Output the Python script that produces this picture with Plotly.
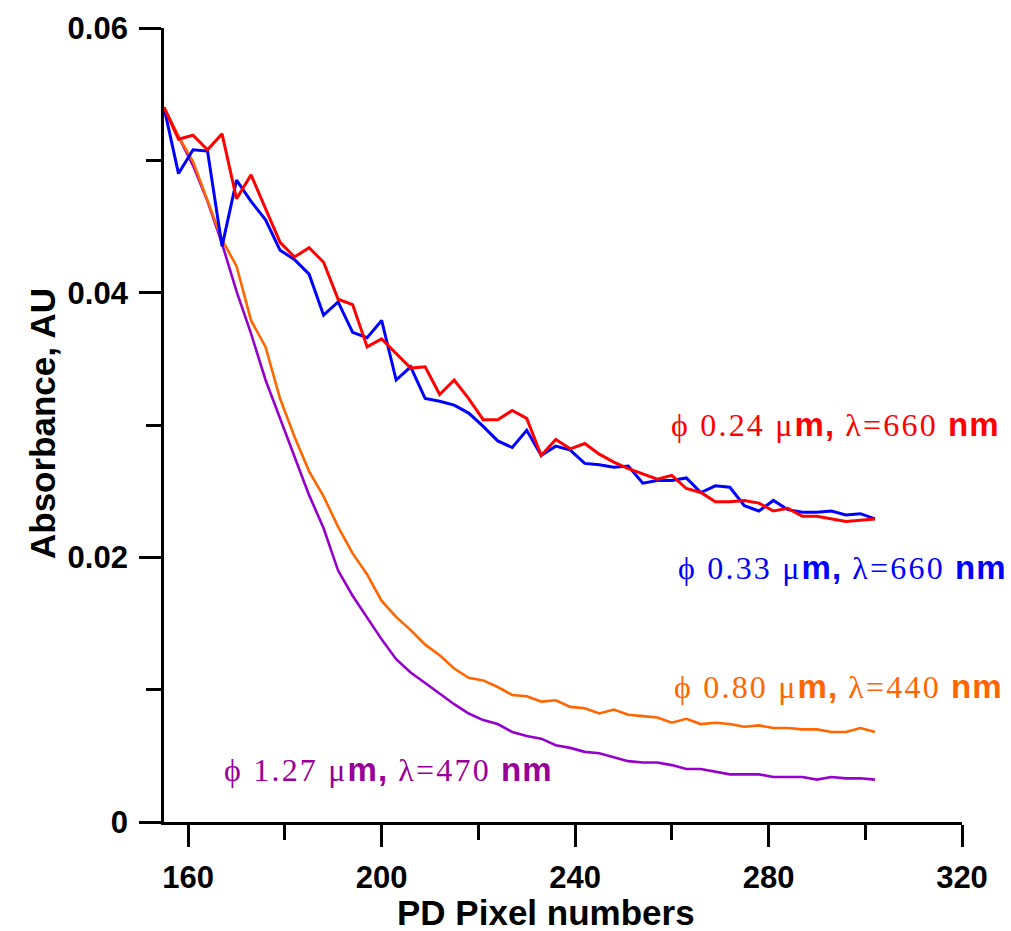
import plotly.graph_objects as go

# PD pixel numbers (x) shared by all curves
pixels = [155, 158, 161, 164, 167, 170, 173, 176, 179, 182,
          185, 188, 191, 194, 197, 200, 203, 206, 209, 212,
          215, 218, 221, 224, 227, 230, 233, 236, 239, 242,
          245, 248, 251, 254, 257, 260, 263, 266, 269, 272,
          275, 278, 281, 284, 287, 290, 293, 296, 299, 302]

red_024 = [0.0540, 0.0516, 0.0519, 0.0508, 0.0520, 0.0471, 0.0489, 0.0464, 0.0438, 0.0427,
           0.0434, 0.0423, 0.0395, 0.0391, 0.0359, 0.0365, 0.0354, 0.0343, 0.0344, 0.0323,
           0.0334, 0.0320, 0.0304, 0.0304, 0.0311, 0.0305, 0.0277, 0.0289, 0.0282, 0.0286,
           0.0278, 0.0272, 0.0267, 0.0263, 0.0259, 0.0262, 0.0252, 0.0249, 0.0242, 0.0242,
           0.0243, 0.0241, 0.0235, 0.0237, 0.0231, 0.0231, 0.0229, 0.0227, 0.0228, 0.0229]

blue_033 = [0.0540, 0.0490, 0.0508, 0.0507, 0.0435, 0.0485, 0.0469, 0.0455, 0.0432, 0.0425,
            0.0414, 0.0383, 0.0393, 0.0370, 0.0366, 0.0379, 0.0334, 0.0344, 0.0320, 0.0318,
            0.0315, 0.0309, 0.0299, 0.0288, 0.0283, 0.0296, 0.0277, 0.0284, 0.0281, 0.0271,
            0.0270, 0.0268, 0.0269, 0.0256, 0.0258, 0.0258, 0.0260, 0.0249, 0.0254, 0.0253,
            0.0239, 0.0235, 0.0243, 0.0236, 0.0234, 0.0234, 0.0235, 0.0232, 0.0233, 0.0229]

orange_080 = [0.0540, 0.0518, 0.0499, 0.0470, 0.0440, 0.0420, 0.0379, 0.0359, 0.0320, 0.0291,
              0.0265, 0.0246, 0.0223, 0.0203, 0.0187, 0.0167, 0.0155, 0.0145, 0.0134, 0.0126,
              0.0116, 0.0109, 0.0107, 0.0102, 0.0096, 0.0095, 0.0091, 0.0092, 0.0087, 0.0086,
              0.0082, 0.0085, 0.0081, 0.0080, 0.0079, 0.0075, 0.0078, 0.0074, 0.0075, 0.0074,
              0.0072, 0.0073, 0.0071, 0.0071, 0.0070, 0.0070, 0.0068, 0.0068, 0.0071, 0.0068]

purple_127 = [0.0540, 0.0518, 0.0496, 0.0469, 0.0437, 0.0401, 0.0369, 0.0334, 0.0305, 0.0275,
              0.0247, 0.0222, 0.0190, 0.0171, 0.0154, 0.0138, 0.0123, 0.0113, 0.0105, 0.0097,
              0.0089, 0.0082, 0.0077, 0.0074, 0.0068, 0.0065, 0.0063, 0.0058, 0.0056, 0.0053,
              0.0052, 0.0049, 0.0046, 0.0045, 0.0045, 0.0043, 0.0040, 0.0040, 0.0038, 0.0036,
              0.0036, 0.0036, 0.0034, 0.0034, 0.0034, 0.0032, 0.0034, 0.0033, 0.0033, 0.0032]

x_tickvals = [160, 200, 240, 280, 320]
x_ticktext = ["160", "200", "240", "280", "320"]
y_tickvals = [0, 0.02, 0.04, 0.06]
y_ticktext = ["0", "0.02", "0.04", "0.06"]

labels = [
    ("0.24", "660", "#FF0000"),
    ("0.33", "660", "#0000FF"),
    ("0.80", "440", "#FF6600"),
    ("1.27", "470", "#990099"),
]

SERIF = "Liberation Serif, Times New Roman, serif"
SANS = "Liberation Sans, Arial, sans-serif"

fig = go.Figure()
series = [(purple_127, "#9600CC", 2.6), (orange_080, "#FF6600", 2.6),
          (blue_033, "#0000FF", 3), (red_024, "#FF0000", 3)]
for ys, col, w in series:
    fig.add_trace(go.Scatter(x=pixels, y=ys, mode="lines",
                             line=dict(color=col, width=w), showlegend=False))

axis_common = dict(showgrid=False, zeroline=False, showline=True, linecolor="black",
                   linewidth=2.7, ticks="outside", ticklen=22, tickwidth=2.7,
                   tickcolor="black",
                   tickfont=dict(family=SANS, size=31, color="black", weight="bold"))

fig.update_xaxes(range=[155, 320], tickmode="array", tickvals=x_tickvals,
                 ticktext=x_ticktext, ticklabelstandoff=4,
                 minor=dict(ticks="outside", ticklen=15, tickwidth=2.7, tickcolor="black",
                            tickvals=[180, 220, 260, 300]),
                 **axis_common)
fig.update_yaxes(range=[0, 0.06], tickmode="array", tickvals=y_tickvals,
                 ticktext=y_ticktext, ticklabelstandoff=5,
                 minor=dict(ticks="outside", ticklen=15, tickwidth=2.7, tickcolor="black",
                            tickvals=[0.01, 0.03, 0.05]),
                 **axis_common)

# label positions in pixel coordinates of the page
L, T, PW, PH = 164, 28, 798, 794
def px(xp):
    return (xp - L) / PW
def py(yp):
    return 1 - (yp - T) / PH

BOLD = "font-family:Liberation Sans;font-weight:bold;font-size:33px"
label_pos = [(669, 424), (676, 567), (672, 686), (222, 769)]
for (d, lam, col), (lx, ly) in zip(labels, label_pos):
    txt = (f"<span style='letter-spacing:2.2px'>ϕ {d} μ</span>"
           f"<span style='{BOLD};letter-spacing:1px'>m,</span>"
           f"<span style='letter-spacing:2.2px'> λ={lam} </span>"
           f"<span style='{BOLD};letter-spacing:1px'>nm</span>")
    fig.add_annotation(text=txt, xref="paper", yref="paper", x=px(lx), y=py(ly),
                       xanchor="left", yanchor="middle", showarrow=False,
                       font=dict(family=SERIF, size=32, color=col))

fig.add_annotation(text="PD Pixel numbers", xref="paper", yref="paper",
                   x=px(546), y=py(912), xanchor="center", yanchor="middle",
                   showarrow=False,
                   font=dict(family=SANS, size=35, color="black", weight="bold"))
fig.add_annotation(text="Absorbance, AU", xref="paper", yref="paper",
                   x=px(42), y=py(424), xanchor="center", yanchor="middle",
                   textangle=-90, showarrow=False,
                   font=dict(family=SANS, size=35, color="black", weight="bold"))

fig.update_layout(width=1011, height=931, plot_bgcolor="white", paper_bgcolor="white",
                  margin=dict(l=L, r=1011 - L - PW, t=T, b=931 - T - PH))

fig.write_html("out.html")
